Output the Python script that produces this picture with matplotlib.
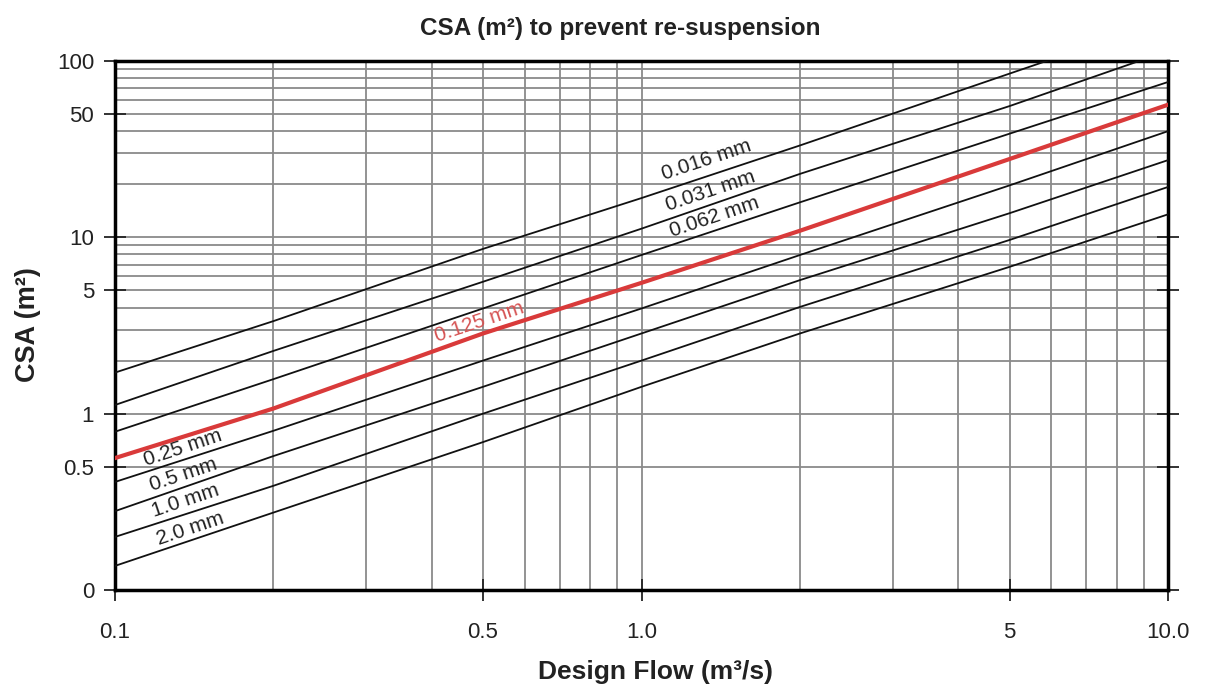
import matplotlib
matplotlib.use("Agg")
import matplotlib.pyplot as plt

plt.rcParams['font.family'] = ['Liberation Sans', 'DejaVu Sans']

# design flow (m3/s) where the curves were read
flow = [0.1, 0.2, 0.5, 1.0, 2.0, 5.0, 10.0]

# CSA (m2) for each particle size
csa_016 = [1.71, 3.35, 8.6, 16.7, 33.2, 84.8, 172]
csa_031 = [1.12, 2.27, 5.6, 11.2, 22.9, 55.5, 114]
csa_062 = [0.79, 1.57, 3.95, 7.94, 15.8, 38.7, 76]
csa_125 = [0.56, 1.07, 2.85, 5.52, 10.9, 27.8, 56.5]
csa_250 = [0.41, 0.80, 2.0, 3.95, 7.94, 19.7, 40]
csa_500 = [0.28, 0.575, 1.42, 2.85, 5.72, 13.7, 27.4]
csa_1000 = [0.20, 0.39, 1.0, 2.0, 4.03, 9.66, 19.3]
csa_2000 = [0.137, 0.275, 0.69, 1.42, 2.85, 6.8, 13.5]

curves = [csa_016, csa_031, csa_062, csa_125, csa_250, csa_500, csa_1000, csa_2000]
sizes = ['0.016 mm', '0.031 mm', '0.062 mm', '0.125 mm',
         '0.25 mm', '0.5 mm', '1.0 mm', '2.0 mm']

# where the size labels sit (data coords)
label_x = [1.33, 1.35, 1.376, 0.493, 0.1346, 0.1346, 0.1358, 0.1388]
label_y = [27.5, 18.3, 12.96, 3.31, 0.637, 0.453, 0.323, 0.224]

x_ticks = [0.1, 0.5, 1.0, 5.0, 10.0]
x_ticklabels = ['0.1', '0.5', '1.0', '5', '10.0']
x_minor = [0.2, 0.3, 0.4, 0.6, 0.7, 0.8, 0.9, 2, 3, 4, 6, 7, 8, 9]
y_ticks = [0.1, 0.5, 1, 5, 10, 50, 100]
y_ticklabels = ['0', '0.5', '1', '5', '10', '50', '100']
y_minor = [2, 3, 4, 6, 7, 8, 9, 20, 30, 40, 60, 70, 80, 90]

W, H = 1207, 691
fig = plt.figure(figsize=(W / 100, H / 100), dpi=100)
ax = fig.add_axes([115 / W, 1 - 590 / H, (1168 - 115) / W, (590 - 61) / H])
ax.set_xscale('log')
ax.set_yscale('log')
ax.set_xlim(0.1, 10)
ax.set_ylim(0.1, 100)

ax.set_xticks(x_ticks)
ax.set_xticklabels(x_ticklabels)
ax.set_xticks(x_minor, minor=True)
ax.set_yticks(y_ticks)
ax.set_yticklabels(y_ticklabels)
ax.set_yticks(y_minor, minor=True)
ax.xaxis.set_minor_formatter(matplotlib.ticker.NullFormatter())
ax.yaxis.set_minor_formatter(matplotlib.ticker.NullFormatter())

ax.tick_params(which='major', direction='inout', length=16, width=1.3,
               labelsize=16, colors='#222222')
ax.tick_params(axis='x', which='major', pad=15)
ax.tick_params(axis='y', which='major', pad=7, right=True)
ax.tick_params(which='minor', length=0)

ax.grid(True, which='both', color='#8a8a8a', linewidth=1.3)
ax.set_axisbelow(True)
for s in ax.spines.values():
    s.set_linewidth(2.5)

for vals, name in zip(curves, sizes):
    if name == '0.125 mm':
        ax.plot(flow, vals, color='#d93a3a', linewidth=3, zorder=4)
    else:
        ax.plot(flow, vals, color='#111111', linewidth=1.3, zorder=3)

for name, lx, ly in zip(sizes, label_x, label_y):
    c = '#d65454' if name == '0.125 mm' else '#222222'
    ax.text(lx, ly, name, rotation=18.5, ha='center', va='center',
            rotation_mode='anchor', fontsize=15, color=c, zorder=5)

fig.text(620 / W, 1 - 28 / H, 'CSA (m²) to prevent re-suspension',
         ha='center', va='center', fontsize=17.5, fontweight='bold', color='#222222')
fig.text(655 / W, 1 - 672 / H, 'Design Flow (m³/s)',
         ha='center', va='center', fontsize=19, fontweight='bold', color='#222222')
fig.text(28 / W, 1 - 325 / H, 'CSA (m²)', rotation=90,
         ha='center', va='center', fontsize=19.5, fontweight='bold', color='#222222')

fig.savefig('out.png', dpi=100)
